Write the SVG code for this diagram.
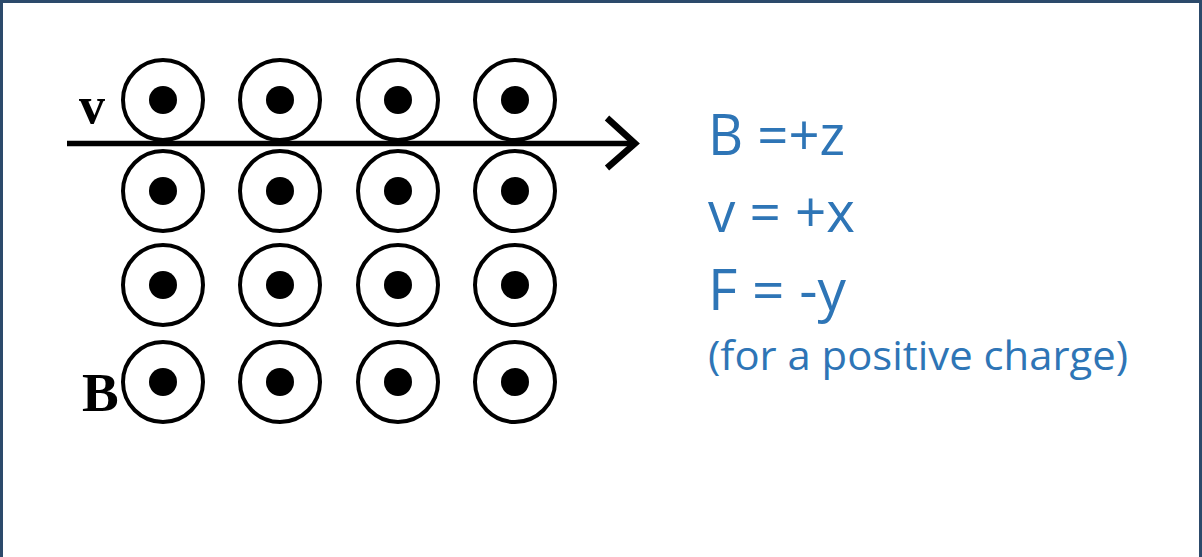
<svg xmlns="http://www.w3.org/2000/svg" width="1202" height="557" viewBox="0 0 1202 557">
<style>
.ring{fill:none;stroke:#000;stroke-width:4}
.dot{fill:#000}
.lbl{font-family:"Liberation Serif",serif;font-weight:bold;fill:#000}
.eq{font-family:"Open Sans",sans-serif;fill:#2e75b6}
</style>
<defs>
<g id="fieldDot">
<circle class="ring" cx="0" cy="0" r="40"/>
<circle class="dot" cx="0" cy="0" r="14"/>
</g>
</defs>
<rect x="0" y="0" width="1202" height="557" fill="#fff"/>
<path d="M1.5 557 V1.5 H1200.5 V557" fill="none" stroke="#2c4a6b" stroke-width="3"/>
<g id="field">
<use href="#fieldDot" x="163" y="100"/>
<use href="#fieldDot" x="280" y="100"/>
<use href="#fieldDot" x="398" y="100"/>
<use href="#fieldDot" x="515" y="100"/>
<use href="#fieldDot" x="163" y="191"/>
<use href="#fieldDot" x="280" y="191"/>
<use href="#fieldDot" x="398" y="191"/>
<use href="#fieldDot" x="515" y="191"/>
<use href="#fieldDot" x="163" y="285"/>
<use href="#fieldDot" x="280" y="285"/>
<use href="#fieldDot" x="398" y="285"/>
<use href="#fieldDot" x="515" y="285"/>
<use href="#fieldDot" x="163" y="382"/>
<use href="#fieldDot" x="280" y="382"/>
<use href="#fieldDot" x="398" y="382"/>
<use href="#fieldDot" x="515" y="382"/>
</g>
<g id="connectors">
<line x1="67" y1="143.5" x2="634" y2="143.5" stroke="#000" stroke-width="5.5"/>
<polyline points="607,118 635,143.5 607,168" fill="none" stroke="#000" stroke-width="6.5" stroke-linejoin="miter"/>
</g>
<g id="labels">
<text class="lbl" x="79" y="123" font-size="52">v</text>
<text class="lbl" x="82" y="411" font-size="55">B</text>
</g>
<g id="equations">
<text class="eq" x="708" y="155" font-size="56" textLength="137" lengthAdjust="spacingAndGlyphs">B =+z</text>
<text class="eq" x="708" y="232" font-size="56" textLength="147" lengthAdjust="spacingAndGlyphs">v = +x</text>
<text class="eq" x="708" y="310" font-size="56" textLength="138" lengthAdjust="spacingAndGlyphs">F = -y</text>
<text class="eq" x="708" y="370" font-size="40" textLength="420" lengthAdjust="spacingAndGlyphs">(for a positive charge)</text>
</g>
</svg>
